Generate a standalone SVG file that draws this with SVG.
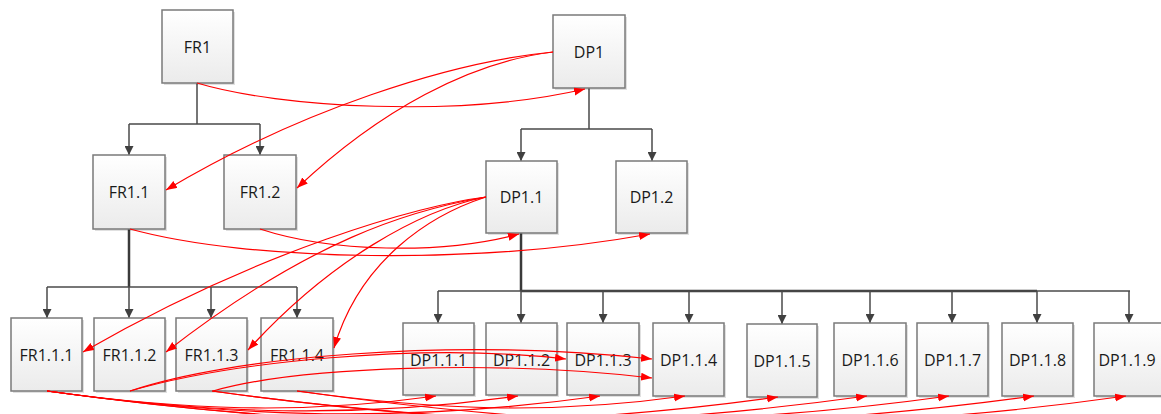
<svg xmlns="http://www.w3.org/2000/svg" width="1161" height="414" viewBox="0 0 1161 414">
<defs>
<linearGradient id="bg" x1="0" y1="0" x2="0" y2="1">
<stop offset="0" stop-color="#ffffff"/>
<stop offset="1" stop-color="#ebebeb"/>
</linearGradient>
<marker id="ga" markerUnits="userSpaceOnUse" markerWidth="10" markerHeight="9" refX="9" refY="4.5" orient="auto">
<path d="M0,0 L9,4.5 L0,9 z" fill="#404040"/>
</marker>
<marker id="ra" markerUnits="userSpaceOnUse" markerWidth="12" markerHeight="9" refX="11" refY="4" orient="auto">
<path d="M0,0 L11,4 L0,8 z" fill="#ff0000"/>
</marker>
</defs>
<style>
.box{fill:url(#bg);stroke:#7a7a7a;stroke-width:1.5}
.sh{fill:#000;opacity:0.12}
.lbl{font-family:"Open Sans","Liberation Sans",sans-serif;font-size:16px;fill:#1a1a1a;text-anchor:middle}
.g{fill:none;stroke:#4a4a4a;stroke-width:1.5}
.gt{fill:none;stroke:#3a3a3a;stroke-width:2.5}
.ga{fill:none;stroke:#4a4a4a;stroke-width:1.5;marker-end:url(#ga)}
.r{fill:none;stroke:#ff0000;stroke-width:1.2;marker-end:url(#ra)}
</style>
<g id="tree-connectors">
<path class="g" d="M197,83 V124 M129,124 H260"/>
<path class="ga" d="M129,124 V155"/>
<path class="ga" d="M260,124 V155"/>
<path class="g" d="M589,88 V129 M521,129 H652"/>
<path class="ga" d="M521,129 V161"/>
<path class="ga" d="M652,129 V161"/>
<path class="gt" d="M129,229 V287"/>
<path class="g" d="M47,287 H297"/>
<path class="ga" d="M47,287 V318"/>
<path class="ga" d="M129,287 V318"/>
<path class="ga" d="M211,287 V318"/>
<path class="ga" d="M297,287 V318"/>
<path class="gt" d="M521,233 V291 M521,291 H1037"/>
<path class="g" d="M438,291 H1130"/>
<path class="ga" d="M438,291 V323"/>
<path class="ga" d="M521,291 V323"/>
<path class="ga" d="M603,291 V323"/>
<path class="ga" d="M689,291 V323"/>
<path class="ga" d="M782,291 V324"/>
<path class="ga" d="M870,291 V323"/>
<path class="ga" d="M952,291 V323"/>
<path class="ga" d="M1037,291 V323"/>
<path class="ga" d="M1129,291 V323"/>
</g>
<g id="FR1"><rect class="sh" x="164" y="12" width="71" height="73"/><rect class="box" x="162" y="10" width="71" height="73"/><text class="lbl" x="197.5" y="52.5">FR1</text></g>
<g id="DP1"><rect class="sh" x="555" y="17" width="72" height="73"/><rect class="box" x="553" y="15" width="72" height="73"/><text class="lbl" x="589" y="57.5">DP1</text></g>
<g id="FR1.1"><rect class="sh" x="95" y="157" width="72" height="74"/><rect class="box" x="93" y="155" width="72" height="74"/><text class="lbl" x="129" y="198">FR1.1</text></g>
<g id="FR1.2"><rect class="sh" x="226" y="157" width="72" height="74"/><rect class="box" x="224" y="155" width="72" height="74"/><text class="lbl" x="260" y="198">FR1.2</text></g>
<g id="DP1.1"><rect class="sh" x="488" y="163" width="71" height="72"/><rect class="box" x="486" y="161" width="71" height="72"/><text class="lbl" x="521.5" y="203">DP1.1</text></g>
<g id="DP1.2"><rect class="sh" x="618" y="163" width="71" height="72"/><rect class="box" x="616" y="161" width="71" height="72"/><text class="lbl" x="651.5" y="203">DP1.2</text></g>
<g id="FR1.1.1"><rect class="sh" x="13" y="320" width="71" height="73"/><rect class="box" x="11" y="318" width="71" height="73"/><text class="lbl" x="46.5" y="360.5">FR1.1.1</text></g>
<g id="FR1.1.2"><rect class="sh" x="96" y="320" width="71" height="73"/><rect class="box" x="94" y="318" width="71" height="73"/><text class="lbl" x="129.5" y="360.5">FR1.1.2</text></g>
<g id="FR1.1.3"><rect class="sh" x="178" y="320" width="71" height="73"/><rect class="box" x="176" y="318" width="71" height="73"/><text class="lbl" x="211.5" y="360.5">FR1.1.3</text></g>
<g id="FR1.1.4"><rect class="sh" x="263" y="320" width="72" height="73"/><rect class="box" x="261" y="318" width="72" height="73"/><text class="lbl" x="297" y="360.5">FR1.1.4</text></g>
<g id="DP1.1.1"><rect class="sh" x="405" y="325" width="71" height="72"/><rect class="box" x="403" y="323" width="71" height="72"/><text class="lbl" x="438.5" y="365.5">DP1.1.1</text></g>
<g id="DP1.1.2"><rect class="sh" x="488" y="325" width="71" height="72"/><rect class="box" x="486" y="323" width="71" height="72"/><text class="lbl" x="521.5" y="365.5">DP1.1.2</text></g>
<g id="DP1.1.3"><rect class="sh" x="569" y="325" width="72" height="72"/><rect class="box" x="567" y="323" width="72" height="72"/><text class="lbl" x="603" y="365.5">DP1.1.3</text></g>
<g id="DP1.1.4"><rect class="sh" x="655" y="325" width="71" height="73"/><rect class="box" x="653" y="323" width="71" height="73"/><text class="lbl" x="688.5" y="365.5">DP1.1.4</text></g>
<g id="DP1.1.5"><rect class="sh" x="749" y="326" width="70" height="73"/><rect class="box" x="747" y="324" width="70" height="73"/><text class="lbl" x="782" y="366.5">DP1.1.5</text></g>
<g id="DP1.1.6"><rect class="sh" x="836" y="325" width="72" height="73"/><rect class="box" x="834" y="323" width="72" height="73"/><text class="lbl" x="870" y="365.5">DP1.1.6</text></g>
<g id="DP1.1.7"><rect class="sh" x="919" y="325" width="71" height="73"/><rect class="box" x="917" y="323" width="71" height="73"/><text class="lbl" x="952.5" y="365.5">DP1.1.7</text></g>
<g id="DP1.1.8"><rect class="sh" x="1004" y="325" width="71" height="73"/><rect class="box" x="1002" y="323" width="71" height="73"/><text class="lbl" x="1037.5" y="365.5">DP1.1.8</text></g>
<g id="DP1.1.9"><rect class="sh" x="1096" y="325" width="71" height="73"/><rect class="box" x="1094" y="323" width="71" height="73"/><text class="lbl" x="1127" y="365.5">DP1.1.9</text></g>
<g id="mapping-connectors">
<path class="r" d="M197,83 C280,108 460,118 585,89"/>
<path class="r" d="M553,52 C450,62 300,110 166,190"/>
<path class="r" d="M553,52 C470,62 380,110 297,188"/>
<path class="r" d="M130,229 C250,262 480,265 650,234"/>
<path class="r" d="M260,229 C330,252 440,255 519,234"/>
<path class="r" d="M486,197 C420,205 260,250 83,352"/>
<path class="r" d="M486,197 C410,210 310,240 166,352"/>
<path class="r" d="M486,197 C420,210 330,260 248,350"/>
<path class="r" d="M486,197 C430,215 360,260 334,348"/>
<path class="r" d="M130,391 C230,362 420,342 566,359"/>
<path class="r" d="M130,391 C230,357 450,337 652,359"/>
<path class="r" d="M213,391 C300,366 500,360 652,378"/>
<path class="r" d="M47,391 C183,410 300,415 436,396"/>
<path class="r" d="M47,391 C212,414 353,419 518,396"/>
<path class="r" d="M47,391 C241,418 406,423 600,396"/>
<path class="r" d="M47,391 C303,427 522,433 778,397"/>
<path class="r" d="M47,391 C334,431 580,436 867,396"/>
<path class="r" d="M212,391 C470,427 691,432 949,396"/>
<path class="r" d="M212,391 C500,431 746,436 1034,396"/>
<path class="r" d="M297,391 C433,410 549,415 685,396"/>
<path class="r" d="M297,391 C587,432 836,437 1126,396"/>
</g>
</svg>
